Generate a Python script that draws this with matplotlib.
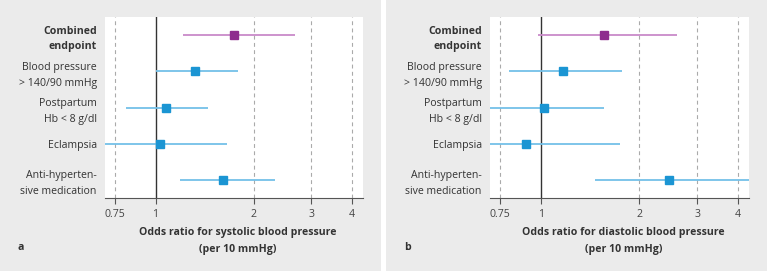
import matplotlib.pyplot as plt
from matplotlib.patches import Rectangle
from matplotlib.ticker import FixedLocator, NullLocator

plt.rcParams['font.family'] = ['Open Sans', 'DejaVu Sans']

outcomes = ["Combined\nendpoint", "Blood pressure\n> 140/90 mmHg", "Postpartum\nHb < 8 g/dl",
            "Eclampsia", "Anti-hyperten-\nsive medication"]

sys_or = [1.74, 1.32, 1.08, 1.03, 1.61]
sys_lo = [1.21, 1.00, 0.81, 0.70, 1.19]
sys_hi = [2.67, 1.79, 1.45, 1.65, 2.32]

dia_or = [1.56, 1.17, 1.02, 0.90, 2.47]
dia_lo = [0.98, 0.80, 0.70, 0.70, 1.46]
dia_hi = [2.60, 1.77, 1.56, 1.74, 4.40]

ticks = [0.75, 1, 2, 3, 4]
tick_labels = ["0.75", "1", "2", "3", "4"]

panels = [
    ("a", "Odds ratio for systolic blood pressure\n(per 10 mmHg)", sys_or, sys_lo, sys_hi),
    ("b", "Odds ratio for diastolic blood pressure\n(per 10 mmHg)", dia_or, dia_lo, dia_hi),
]

W, H = 767, 271
fig = plt.figure(figsize=(W / 100, H / 100), dpi=100)
fig.patch.set_facecolor("white")

bg = "#ebebeb"
purple, purple_l = "#8e2c8e", "#c98ac9"
blue, blue_l = "#1b95d3", "#74c0e8"
fs = 7.6

panel_x = [(0, 381), (386, 767)]
axes_x = [(105, 363), (490, 749)]

for k, (letter, xlabel, orr, lo, hi) in enumerate(panels):
    px0, px1 = panel_x[k]
    fig.patches.append(Rectangle((px0 / W, 0), (px1 - px0) / W, 1, transform=fig.transFigure,
                                 facecolor=bg, edgecolor="none", zorder=-5))
    ax0, ax1 = axes_x[k]
    ax = fig.add_axes([ax0 / W, 1 - 198 / H, (ax1 - ax0) / W, 181 / H])
    ax.set_facecolor("white")
    ax.set_xscale("log")
    ax.set_xlim(0.70, 4.32)
    ax.set_ylim(len(outcomes) - 0.5, -0.5)

    for t in [0.75, 2, 3, 4]:
        ax.axvline(t, color="#aaaaaa", lw=0.8, ls=(0, (3.5, 3)), zorder=1)
    ax.axvline(1, color="#333333", lw=1.0, zorder=2)

    for i in range(len(outcomes)):
        c, cl = (purple, purple_l) if i == 0 else (blue, blue_l)
        ax.plot([lo[i], hi[i]], [i, i], color=cl, lw=1.3, zorder=3, solid_capstyle="butt")
        ax.plot(orr[i], i, marker="s", ms=5.4, color=c, mec=c, zorder=4)

    ax.xaxis.set_major_locator(FixedLocator(ticks))
    ax.xaxis.set_minor_locator(NullLocator())
    ax.set_xticklabels(tick_labels, fontsize=fs, color="#444444")
    ax.tick_params(axis="x", length=4, width=0.8, color="#555555", pad=4)
    ax.set_yticks(range(len(outcomes)))
    ax.set_yticklabels(outcomes, fontsize=fs, color="#333333", linespacing=1.6)
    ax.get_yticklabels()[0].set_fontweight("bold")
    ax.tick_params(axis="y", length=0, pad=6)
    for s in ["top", "right", "left"]:
        ax.spines[s].set_visible(False)
    ax.spines["bottom"].set_color("#555555")
    ax.spines["bottom"].set_linewidth(0.8)

    fig.text((ax0 + ax1) / 2 / W + 0.005, 1 - 241 / H, xlabel, ha="center", va="center",
             fontsize=fs, fontweight="bold", color="#333333", linespacing=1.65)
    fig.text((px0 + 18) / W, 1 - 248 / H, letter, ha="left", va="center",
             fontsize=fs, fontweight="bold", color="#333333")

fig.savefig("out.png", dpi=100, facecolor=fig.get_facecolor())
